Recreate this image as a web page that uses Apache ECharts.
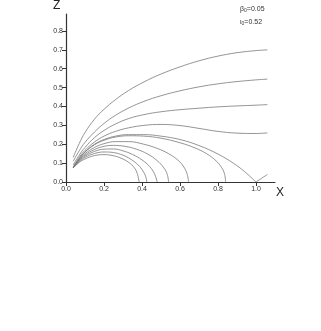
<!DOCTYPE html>
<html><head><meta charset="utf-8">
<script src="https://cdn.jsdelivr.net/npm/echarts@6/dist/echarts.min.js"></script>
<style>html,body{margin:0;padding:0;background:#fff}#c{width:321px;height:331px}</style>
</head><body><div id="c"></div>
<script>
var xTicks = [0, 0.2, 0.4, 0.6, 0.8, 1.0];
var yTicks = [0, 0.1, 0.2, 0.3, 0.4, 0.5, 0.6, 0.7, 0.8];
var c1 = [[0.038,0.13],[0.07,0.205],[0.1,0.262],[0.15,0.333],[0.2,0.385],[0.26,0.436],[0.33,0.485],[0.41,0.53],[0.5,0.572],[0.6,0.61],[0.7,0.642],[0.8,0.667],[0.9,0.685],[1.0,0.696],[1.06,0.70]];
var c2 = [[0.038,0.11],[0.07,0.166],[0.1,0.21],[0.15,0.265],[0.2,0.31],[0.26,0.353],[0.33,0.392],[0.41,0.427],[0.5,0.457],[0.6,0.483],[0.7,0.504],[0.8,0.52],[0.9,0.532],[1.0,0.541],[1.06,0.545]];
var c3 = [[0.038,0.09],[0.07,0.143],[0.1,0.183],[0.15,0.235],[0.2,0.273],[0.26,0.307],[0.33,0.336],[0.41,0.357],[0.5,0.372],[0.6,0.383],[0.7,0.391],[0.8,0.398],[0.9,0.403],[1.0,0.407],[1.06,0.41]];
var c4 = [[0.038,0.08],[0.07,0.132],[0.1,0.168],[0.15,0.212],[0.2,0.243],[0.26,0.268],[0.33,0.287],[0.41,0.3],[0.5,0.305],[0.6,0.299],[0.7,0.284],[0.8,0.268],[0.9,0.259],[1.0,0.257],[1.06,0.26]];
var c5 = [[0.038,0.075],[0.07,0.125],[0.1,0.16],[0.15,0.2],[0.2,0.225],[0.26,0.243],[0.33,0.251],[0.41,0.251],[0.5,0.243],[0.6,0.225],[0.7,0.193],[0.8,0.148],[0.88,0.1],[0.94,0.055],[1.0,0.0]];
var c5bounce = [[1.0,0.0],[1.03,0.02],[1.06,0.04]];
var c6 = [[0.038,0.075],[0.07,0.123],[0.1,0.158],[0.15,0.197],[0.2,0.221],[0.26,0.238],[0.33,0.245],[0.41,0.243],[0.5,0.232],[0.6,0.208],[0.68,0.18],[0.74,0.15],[0.79,0.112],[0.82,0.075],[0.835,0.04],[0.84,0.0]];
var c7 = [[0.038,0.075],[0.07,0.12],[0.1,0.15],[0.15,0.183],[0.2,0.203],[0.26,0.214],[0.33,0.214],[0.41,0.2],[0.48,0.178],[0.54,0.15],[0.59,0.115],[0.62,0.08],[0.638,0.04],[0.645,0.0]];
var c8 = [[0.038,0.075],[0.07,0.117],[0.1,0.143],[0.15,0.172],[0.2,0.189],[0.25,0.194],[0.31,0.189],[0.37,0.174],[0.43,0.148],[0.48,0.113],[0.515,0.075],[0.533,0.04],[0.54,0.0]];
var c9 = [[0.038,0.075],[0.07,0.113],[0.1,0.137],[0.15,0.162],[0.2,0.174],[0.25,0.175],[0.3,0.165],[0.35,0.146],[0.4,0.117],[0.44,0.082],[0.465,0.045],[0.48,0.0]];
var c10 = [[0.038,0.075],[0.07,0.108],[0.1,0.13],[0.15,0.151],[0.2,0.159],[0.25,0.156],[0.3,0.142],[0.34,0.121],[0.38,0.09],[0.405,0.058],[0.42,0.028],[0.425,0.0]];
var c11 = [[0.038,0.075],[0.07,0.104],[0.1,0.122],[0.15,0.14],[0.2,0.145],[0.25,0.139],[0.29,0.126],[0.33,0.104],[0.36,0.075],[0.375,0.045],[0.385,0.0]];
var curves = [c1,c2,c3,c4,c5,c5bounce,c6,c7,c8,c9,c10,c11];

var chart = echarts.init(document.getElementById('c'), null, {renderer:'canvas'});
var lblStyle = {color:'#333', fontSize:7, fontFamily:'Liberation Sans, Arial, sans-serif'};
chart.setOption({
  animation:false,
  grid:{left:66, top:14, width:209, height:168, containLabel:false},
  xAxis:{type:'value', min:0, max:1.1, splitLine:{show:false},
    axisLine:{show:true, onZero:false, lineStyle:{color:'#333', width:1.2}},
    axisTick:{show:true, length:4, lineStyle:{color:'#333', width:1}, customValues:xTicks},
    axisLabel:Object.assign({margin:4, customValues:xTicks, formatter:function(v){return v.toFixed(1);}}, lblStyle)},
  yAxis:{type:'value', min:0, max:0.89, splitLine:{show:false},
    axisLine:{show:true, onZero:false, lineStyle:{color:'#333', width:1.2}},
    axisTick:{show:true, length:4, lineStyle:{color:'#333', width:1}, customValues:yTicks},
    axisLabel:Object.assign({margin:3, customValues:yTicks, formatter:function(v){return v.toFixed(1);}}, lblStyle)},
  series: curves.map(function(d){return {type:'line', data:d, smooth:0.4, symbol:'none', lineStyle:{color:'#7a7a7a', width:0.8}, silent:true};}),
  graphic:[
    {type:'text', left:53, top:0, style:{text:'Z', fontSize:12, fill:'#222', fontFamily:'Liberation Sans, Arial, sans-serif'}},
    {type:'text', left:276, top:187, style:{text:'X', fontSize:12, fill:'#222', fontFamily:'Liberation Sans, Arial, sans-serif'}},
    {type:'text', left:240, top:6, style:{text:'{a|β}{s|0}{a|=0.05}', rich:{a:{fontSize:7, fill:'#333', fontFamily:'Liberation Sans, Arial, sans-serif'}, s:{fontSize:5, fill:'#333', verticalAlign:'bottom', padding:[3,0,0,0]}}}},
    {type:'text', left:240, top:19, style:{text:'{a|ι}{s|0}{a|=0.52}', rich:{a:{fontSize:7, fill:'#333', fontFamily:'Liberation Sans, Arial, sans-serif'}, s:{fontSize:5, fill:'#333', verticalAlign:'bottom', padding:[3,0,0,0]}}}}
  ]
});
</script></body></html>
